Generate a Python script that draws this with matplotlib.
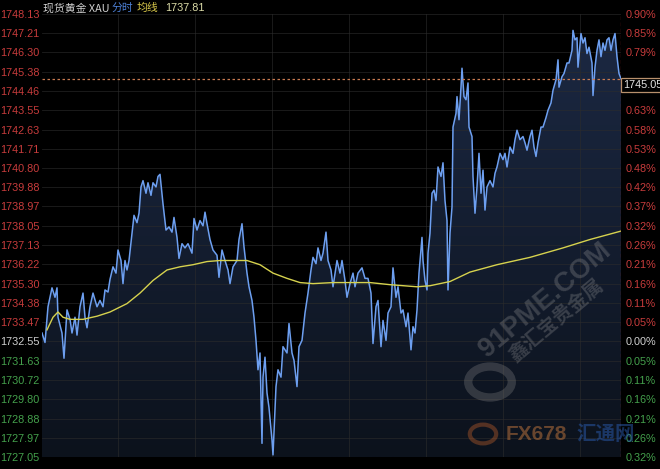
import numpy as np
import matplotlib
matplotlib.use('Agg')
import matplotlib.pyplot as plt
from matplotlib.colors import LinearSegmentedColormap
from matplotlib.patches import PathPatch, Circle
import matplotlib.transforms as mtransforms

plt.rcParams['font.family'] = ['Liberation Sans', 'Noto Sans CJK SC', 'DejaVu Sans']

# 分时数据 (时间序号, 价格)
t = [0, 3, 6, 10, 13, 15, 16, 20, 22, 25, 28, 30, 33, 35, 38, 41, 43, 45, 48, 51,
     55, 58, 61, 63, 66, 68, 71, 74, 76, 79, 81, 83, 85, 87, 90, 92, 95, 97, 99, 101,
     104, 106, 109, 111, 114, 116, 118, 121, 124, 127, 130, 132, 135, 137, 140, 143, 146, 150, 152, 155,
     158, 161, 163, 165, 168, 171, 175, 177, 180, 183, 186, 188, 191, 195, 197, 200, 202, 205, 207, 210,
     212, 214, 216, 218, 220, 221, 223, 225, 227, 230, 231, 234, 236, 239, 241, 245, 247, 250, 252, 255,
     257, 260, 263, 266, 269, 271, 274, 276, 279, 281, 284, 286, 289, 291, 294, 295, 298, 300, 303, 305,
     308, 311, 313, 316, 320, 323, 326, 329, 331, 334, 336, 339, 341, 344, 346, 349, 351, 354, 356, 359,
     361, 364, 366, 369, 371, 373, 375, 377, 380, 381, 383, 385, 386, 388, 390, 392, 394, 396, 399, 401,
     403, 405, 406, 408, 410, 411, 414, 415, 417, 419, 420, 422, 424, 426, 427, 430, 431, 433, 435, 437,
     439, 441, 443, 445, 448, 451, 453, 455, 458, 461, 463, 465, 468, 471, 473, 475, 478, 481, 483, 485,
     488, 490, 492, 494, 496, 499, 501, 504, 506, 509, 511, 514, 516, 517, 520, 522, 525, 527, 530, 531,
     533, 535, 536, 539, 541, 543, 545, 547, 550, 551, 553, 555, 557, 559, 561, 563, 565, 567, 569, 571,
     573, 575, 577, 579]
price = [1732.95, 1732.5, 1734.2, 1735.1, 1734.65, 1735.1, 1733.7, 1732.95, 1731.75, 1734.05,
         1733.6, 1732.95, 1733.7, 1732.85, 1734.2, 1734.85, 1733.7, 1733.2, 1734.2, 1734.85,
         1734.2, 1734.5, 1734.2, 1735.0, 1734.9, 1735.5, 1736.1, 1735.8, 1736.9, 1736.4,
         1735.3, 1736.4, 1735.95, 1736.4, 1737.7, 1738.55, 1738.2, 1738.65, 1739.9, 1740.2,
         1739.6, 1740.1, 1739.5, 1740.1, 1739.9, 1740.4, 1740.5, 1739.1, 1737.85, 1738.0,
         1737.75, 1738.45, 1737.5, 1736.5, 1737.2, 1737.0, 1737.2, 1736.75, 1738.4, 1737.85,
         1738.3, 1738.05, 1738.7, 1738.15, 1737.4, 1736.9, 1736.65, 1735.6, 1736.9, 1736.4,
         1735.95, 1735.3, 1736.1, 1736.4, 1737.4, 1738.15, 1737.05, 1735.8, 1735.15, 1734.5,
         1733.7, 1732.6, 1731.2, 1732.0, 1727.7, 1730.85, 1731.8, 1730.1, 1729.4, 1727.85,
         1727.15, 1730.4, 1731.2, 1730.85, 1732.3, 1732.0, 1733.4, 1732.0, 1731.65, 1730.4,
         1732.3, 1732.6, 1733.9, 1734.85, 1735.95, 1736.55, 1736.25, 1737.0, 1736.4, 1736.75,
         1737.75, 1736.4, 1735.95, 1735.15, 1736.1, 1736.4, 1735.8, 1736.4, 1735.45, 1734.65,
         1735.3, 1735.8, 1735.15, 1735.8, 1736.05, 1735.55, 1735.55, 1734.85, 1732.45, 1734.2,
         1734.5, 1732.3, 1733.55, 1732.6, 1733.9, 1734.2, 1736.05, 1734.65, 1735.15, 1733.9,
         1734.05, 1733.25, 1733.9, 1732.15, 1733.25, 1732.95, 1734.05, 1735.8, 1737.5, 1736.4,
         1735.45, 1735.0, 1736.75, 1737.7, 1739.6, 1739.75, 1739.25, 1740.85, 1740.4, 1741.05,
         1739.25, 1738.3, 1735.0, 1737.7, 1738.95, 1742.75, 1743.4, 1744.2, 1743.1, 1744.65,
         1745.55, 1744.2, 1744.05, 1744.85, 1742.75, 1742.3, 1740.4, 1738.65, 1739.9, 1741.5,
         1739.6, 1740.7, 1738.8, 1739.9, 1740.2, 1739.9, 1740.55, 1740.85, 1741.5, 1741.2,
         1741.5, 1740.85, 1741.8, 1741.5, 1742.15, 1742.6, 1742.15, 1742.3, 1742.0, 1741.65,
         1742.3, 1742.6, 1741.8, 1741.35, 1742.0, 1742.75, 1742.75, 1743.2, 1743.55, 1743.9,
         1744.5, 1745.0, 1745.95, 1744.65, 1745.15, 1745.3, 1745.8, 1745.8, 1746.4, 1747.35,
         1746.9, 1747.0, 1745.6, 1747.2, 1746.75, 1747.0, 1746.25, 1746.55, 1745.8, 1744.25,
         1745.6, 1746.4, 1746.9, 1746.1, 1746.75, 1746.4, 1746.9, 1747.0, 1746.4, 1746.9,
         1747.2, 1746.1, 1745.3, 1745.05]

# 均线
ma_t = [5, 11, 16, 21, 28, 41, 55, 68, 85, 98, 111, 125, 138, 151, 165, 178, 191, 205, 218, 231,
        245, 258, 271, 291, 328, 348, 375, 388, 408, 428, 455, 488, 521, 548, 579]
ma = [1733.1, 1733.7, 1733.95, 1733.7, 1733.6, 1733.6, 1733.75, 1733.95, 1734.35, 1734.85,
      1735.45, 1735.95, 1736.1, 1736.2, 1736.35, 1736.4, 1736.4, 1736.4, 1736.2, 1735.8,
      1735.55, 1735.35, 1735.3, 1735.35, 1735.35, 1735.25, 1735.15, 1735.2, 1735.4, 1735.85,
      1736.2, 1736.55, 1737.0, 1737.4, 1737.8]

left_ticks = [1748.13, 1747.21, 1746.30, 1745.38, 1744.46, 1743.55, 1742.63, 1741.71,
              1740.80, 1739.88, 1738.97, 1738.05, 1737.13, 1736.22, 1735.30, 1734.38,
              1733.47, 1732.55, 1731.63, 1730.72, 1729.80, 1728.88, 1727.97, 1727.05]
pct_labels = ['0.90%', '0.85%', '0.79%', '0.74%', '0.69%', '0.63%', '0.58%', '0.53%',
              '0.48%', '0.42%', '0.37%', '0.32%', '0.26%', '0.21%', '0.16%', '0.11%',
              '0.05%', '0.00%', '0.05%', '0.11%', '0.16%', '0.21%', '0.26%', '0.32%']
base = 1732.55
last_price = 1745.05
ma_last = '1737.81'

ymin, ymax = left_ticks[-1], left_ticks[0]
xmax = 579

fig = plt.figure(figsize=(6.6, 4.69), dpi=100, facecolor='black')
ax = fig.add_axes([42 / 660, 12 / 469, 579 / 660, 443 / 469])
ax.set_facecolor('black')
ax.set_xlim(0, xmax)
ax.set_ylim(ymin, ymax)

# 渐变填充
poly = ax.fill_between(t, price, ymin, color='none', lw=0)
clip = PathPatch(poly.get_paths()[0], transform=ax.transData, fc='none', ec='none')
ax.add_patch(clip)
cmap = LinearSegmentedColormap.from_list('fill', ['#0c121c', '#1c2944'])
grad = np.linspace(0, 1, 256).reshape(-1, 1)
im = ax.imshow(grad, extent=[0, xmax, ymin, ymax], origin='lower', aspect='auto',
               cmap=cmap, zorder=1)
im.set_clip_path(clip)

# 网格
for v in left_ticks:
    ax.axhline(v, color='#2c2c2c', lw=0.6, alpha=0.7, zorder=2)
for xv in np.arange(76, xmax, 77):
    ax.axvline(xv, color='#2c2c2c', lw=0.6, alpha=0.7, zorder=2)

ax.plot(t, price, color='#6d9ff0', lw=1.1, zorder=3)
ax.plot(ma_t, ma, color='#d6d24e', lw=1.0, zorder=4)
ax.axhline(last_price, color='#c87a50', lw=0.9, ls=(0, (2, 2)), zorder=4)
ax.axvline(xmax, color='#8c2626', lw=0.9, ls=(0, (3, 2)), zorder=4)

for s in ax.spines.values():
    s.set_visible(False)
ax.set_xticks([])
ax.set_yticks(left_ticks)
ax.set_yticklabels(['%.2f' % v for v in left_ticks])
ax.tick_params(axis='y', length=0, pad=2, labelsize=7.8)


def tick_color(v):
    if abs(v - base) < 1e-6:
        return '#cfcfcf'
    return '#c83c3c' if v > base else '#44a04c'


for lab, v in zip(ax.get_yticklabels(), left_ticks):
    lab.set_color(tick_color(v))

# 右侧百分比, 最新价标签盖住的那一格不显示
right_labels = ['' if abs(v - last_price) < 0.7 else p for v, p in zip(left_ticks, pct_labels)]
ax2 = ax.twinx()
ax2.set_ylim(ymin, ymax)
for s in ax2.spines.values():
    s.set_visible(False)
ax2.set_yticks(left_ticks)
ax2.set_yticklabels(right_labels)
ax2.tick_params(axis='y', length=0, pad=3, labelsize=7.8)
for lab, v in zip(ax2.get_yticklabels(), left_ticks):
    lab.set_color(tick_color(v))

# 最新价标签
trans = mtransforms.blended_transform_factory(ax2.transAxes, ax2.transData)
ax2.text(1.004, last_price - 0.3, '%.2f' % last_price, transform=trans, fontsize=7.8,
         color='#e6e6e6', va='center', ha='left', zorder=6,
         bbox=dict(boxstyle='square,pad=0.2', fc='black', ec='#b8906c', lw=0.9))

# 标题
cjk = ['Noto Sans CJK SC', 'DejaVu Sans']
fig.text(43 / 660, 1 - 8 / 469, '现货黄金 XAU', color='#cfcfcf', fontsize=7.8,
         family=cjk, va='center')
fig.text(112 / 660, 1 - 8 / 469, '分时', color='#4d80d6', fontsize=7.8,
         family=cjk, va='center')
fig.text(137 / 660, 1 - 8 / 469, '均线', color='#d8c84a', fontsize=7.8,
         family=cjk, va='center')
fig.text(165 / 660, 1 - 8 / 469, ma_last, color='#dcdca8', fontsize=7.8,
         va='center')

# 水印
fig.text(545 / 660, 1 - 300 / 469, '91PME.COM', color='#9a9a9a', alpha=0.3,
         fontsize=20, fontweight='bold', rotation=40, ha='center', va='center')
fig.text(556 / 660, 1 - 320 / 469, '鑫汇宝贵金属', color='#9a9a9a', alpha=0.3,
         fontsize=14, fontweight='bold', rotation=40, ha='center', va='center',
         family=cjk)
fig.patches.append(Circle((490 / 660, 1 - 382 / 469), 0.033, transform=fig.transFigure,
                          fill=False, ec='#8a8a8a', lw=6, alpha=0.3))
fig.text(536 / 660, 1 - 434 / 469, 'FX678', color='#b5703c', alpha=0.55,
         fontsize=15, fontweight='bold', ha='center', va='center')
fig.text(606 / 660, 1 - 434 / 469, '汇通网', color='#2a5cb0', alpha=0.5,
         fontsize=14, fontweight='bold', ha='center', va='center', family=cjk)
fig.patches.append(Circle((483 / 660, 1 - 434 / 469), 0.02, transform=fig.transFigure,
                          fill=False, ec='#c0602c', lw=3, alpha=0.4))

fig.savefig('out.png', dpi=100, facecolor='black')
